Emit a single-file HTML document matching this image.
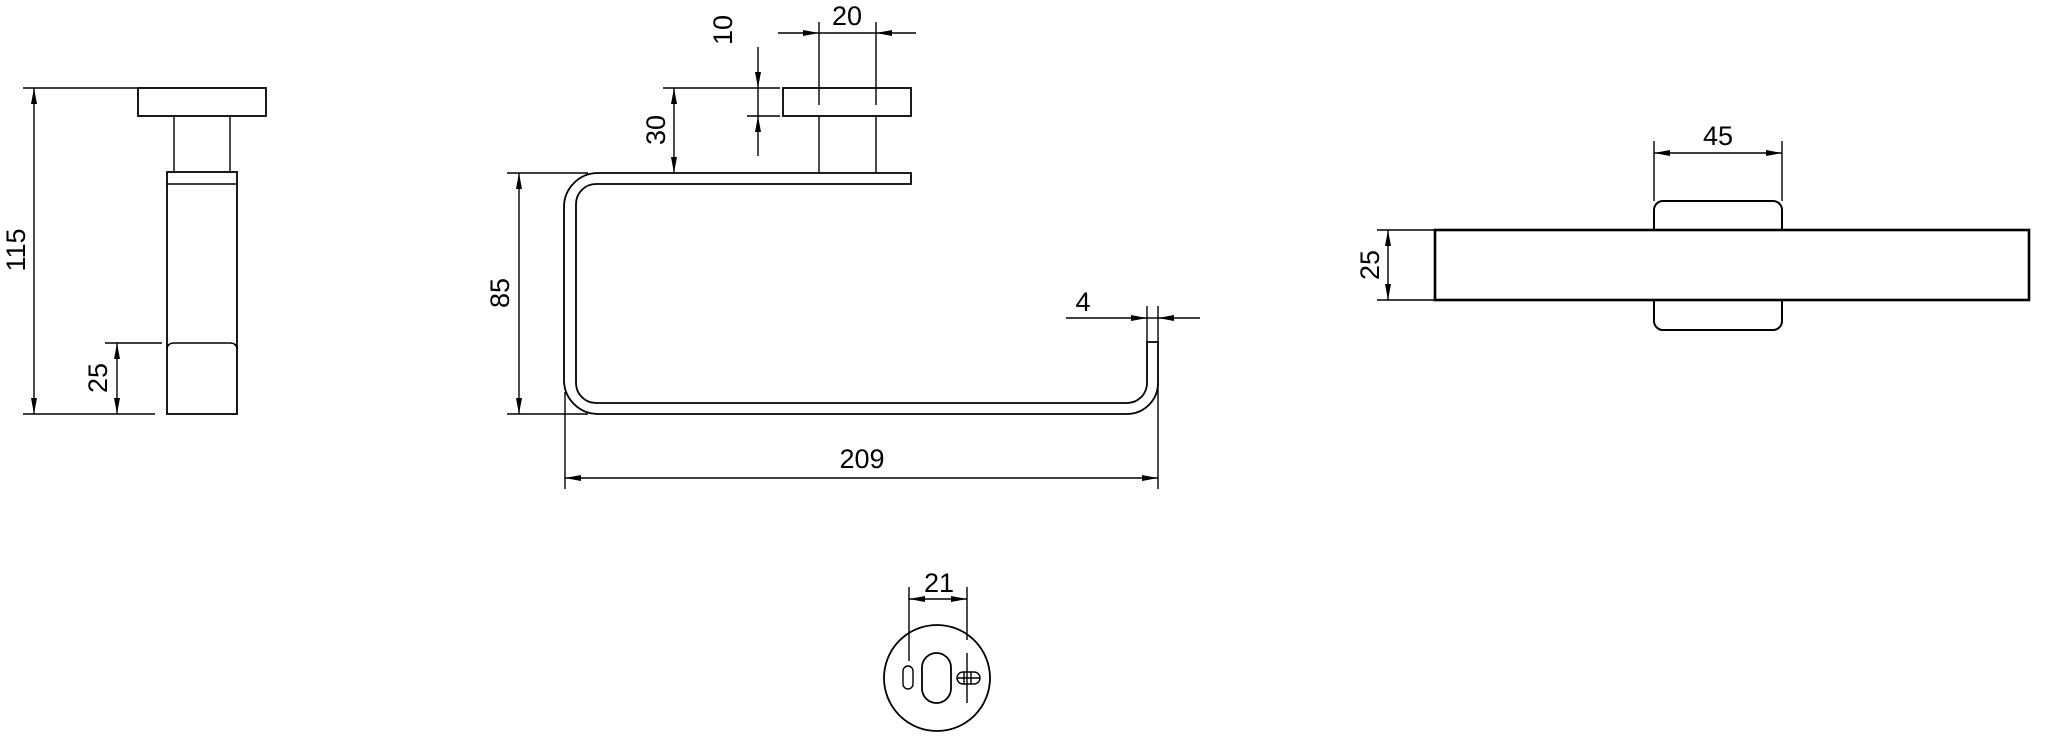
<!DOCTYPE html>
<html><head><meta charset="utf-8"><style>
html,body{margin:0;padding:0;background:#fff;}
svg{display:block;}
text{font-family:"Liberation Sans",sans-serif;font-size:27px;fill:#000;}
</style></head><body>
<svg width="2048" height="749" viewBox="0 0 2048 749" xmlns="http://www.w3.org/2000/svg">
<defs>
<marker id="a" viewBox="0 0 16 6" refX="16" refY="3" markerWidth="16" markerHeight="6" markerUnits="userSpaceOnUse" orient="auto-start-reverse">
<path d="M0,0 L16,3 L0,6 Z" fill="#000"/>
</marker>
</defs>
<g stroke="#000" stroke-width="1.4" fill="none">
<!-- LEFT VIEW -->
<line x1="23" y1="88" x2="137" y2="88"/>
<line x1="23" y1="414" x2="155" y2="414"/>
<line x1="34" y1="88" x2="34" y2="414" marker-start="url(#a)" marker-end="url(#a)"/>
<rect x="138" y="88" width="128" height="28" stroke-width="1.8"/>
<line x1="174" y1="116" x2="174" y2="172"/>
<line x1="230" y1="116" x2="230" y2="172"/>
<rect x="167" y="172" width="70" height="242" stroke-width="1.8"/>
<line x1="167" y1="184" x2="237" y2="184"/>
<path d="M167,350 Q167,343 174,343 L230,343 Q237,343 237,350"/>
<line x1="105" y1="343" x2="162" y2="343"/>
<line x1="117" y1="343" x2="117" y2="414" marker-start="url(#a)" marker-end="url(#a)"/>

<!-- MIDDLE VIEW -->
<rect x="783" y="88" width="128" height="28" stroke-width="1.8"/>
<line x1="819" y1="22" x2="819" y2="105"/>
<line x1="876" y1="22" x2="876" y2="105"/>
<line x1="819" y1="116" x2="819" y2="173"/>
<line x1="876" y1="116" x2="876" y2="173"/>
<line x1="778" y1="33" x2="819" y2="33" marker-end="url(#a)"/>
<line x1="819" y1="33" x2="876" y2="33"/>
<line x1="916" y1="33" x2="876" y2="33" marker-end="url(#a)"/>
<line x1="663" y1="88" x2="780" y2="88"/>
<line x1="747" y1="116" x2="780" y2="116"/>
<line x1="758" y1="47" x2="758" y2="88" marker-end="url(#a)"/>
<line x1="758" y1="88" x2="758" y2="116"/>
<line x1="758" y1="156" x2="758" y2="116" marker-end="url(#a)"/>
<line x1="674" y1="88" x2="674" y2="173" marker-start="url(#a)" marker-end="url(#a)"/>
<!-- hook -->
<path d="M911,173 L598,173 A34,34 0 0 0 564,207 L564,380 A34,34 0 0 0 598,414 L1127,414 A31,31 0 0 0 1158,383 L1158,342 L1147,342 L1147,383 A20,20 0 0 1 1127,403 L596,403 A20,20 0 0 1 576,383 L576,204 A20,20 0 0 1 596,184 L911,184 Z" stroke-width="1.8"/>
<line x1="507" y1="173" x2="588" y2="173"/>
<line x1="507" y1="414" x2="588" y2="414"/>
<line x1="519" y1="173" x2="519" y2="414" marker-start="url(#a)" marker-end="url(#a)"/>
<line x1="565" y1="392" x2="565" y2="489"/>
<line x1="1158" y1="383" x2="1158" y2="489"/>
<line x1="565" y1="478" x2="1158" y2="478" marker-start="url(#a)" marker-end="url(#a)"/>
<line x1="1147" y1="306" x2="1147" y2="342"/>
<line x1="1158" y1="306" x2="1158" y2="342"/>
<line x1="1066" y1="318" x2="1147" y2="318" marker-end="url(#a)"/>
<line x1="1147" y1="318" x2="1158" y2="318"/>
<line x1="1200" y1="318" x2="1158" y2="318" marker-end="url(#a)"/>

<!-- RIGHT VIEW -->
<rect x="1654" y="201" width="128" height="129" rx="9" stroke-width="2"/>
<rect x="1435" y="230" width="594" height="70" fill="#fff" stroke-width="2.6"/>
<line x1="1654" y1="141" x2="1654" y2="201"/>
<line x1="1782" y1="141" x2="1782" y2="201"/>
<line x1="1654" y1="153" x2="1782" y2="153" marker-start="url(#a)" marker-end="url(#a)"/>
<line x1="1377" y1="230" x2="1435" y2="230"/>
<line x1="1377" y1="300" x2="1435" y2="300"/>
<line x1="1388" y1="230" x2="1388" y2="300" marker-start="url(#a)" marker-end="url(#a)"/>

<!-- CIRCLE VIEW -->
<circle cx="937" cy="678" r="53" stroke-width="1.8"/>
<rect x="903" y="666" width="10" height="23" rx="5"/>
<rect x="922" y="653" width="29" height="50" rx="14.5" stroke-width="1.8"/>
<rect x="957" y="672" width="23" height="12" rx="6"/>
<line x1="957" y1="678" x2="980" y2="678"/>
<line x1="964" y1="672" x2="964" y2="684"/>
<line x1="971" y1="672" x2="971" y2="684"/>
<line x1="967" y1="653" x2="967" y2="703"/>
<line x1="909" y1="587" x2="909" y2="661"/>
<line x1="967" y1="587" x2="967" y2="640"/>
<line x1="909" y1="599" x2="967" y2="599" marker-start="url(#a)" marker-end="url(#a)"/>
</g>
<g>
<text x="0" y="0" text-anchor="middle" dominant-baseline="central" transform="translate(16,250) rotate(-90)">115</text>
<text x="0" y="0" text-anchor="middle" dominant-baseline="central" transform="translate(98,378) rotate(-90)">25</text>
<text x="847" y="25" text-anchor="middle">20</text>
<text x="0" y="0" text-anchor="middle" dominant-baseline="central" transform="translate(723,30) rotate(-90)">10</text>
<text x="0" y="0" text-anchor="middle" dominant-baseline="central" transform="translate(656,130) rotate(-90)">30</text>
<text x="0" y="0" text-anchor="middle" dominant-baseline="central" transform="translate(500,293) rotate(-90)">85</text>
<text x="862" y="468" text-anchor="middle">209</text>
<text x="1083" y="311" text-anchor="middle">4</text>
<text x="1718" y="145" text-anchor="middle">45</text>
<text x="0" y="0" text-anchor="middle" dominant-baseline="central" transform="translate(1370,265) rotate(-90)">25</text>
<text x="939" y="592" text-anchor="middle">21</text>
</g>
</svg>
</body></html>
